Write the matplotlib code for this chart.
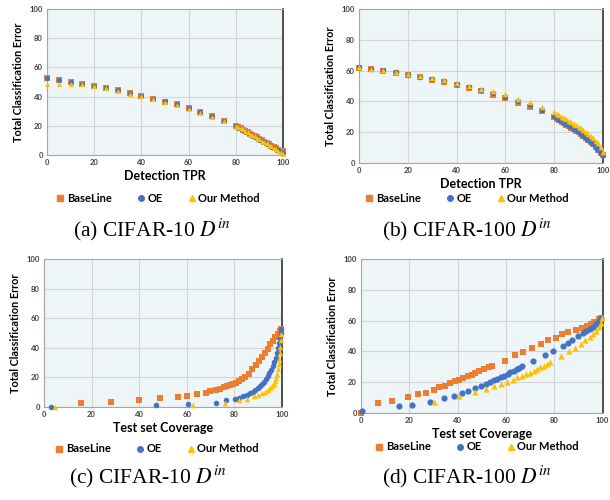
import matplotlib
matplotlib.use('Agg')
import matplotlib.pyplot as plt
from matplotlib.lines import Line2D

plt.rcParams['font.family'] = ['Lato', 'DejaVu Sans']
plt.rcParams['mathtext.fontset'] = 'stix'

# ---- data ----
tpr = [0, 5, 10, 15, 20, 25, 30, 35, 40, 45, 50, 55, 60, 65, 70, 75,
       80, 81, 82, 83, 84, 85, 86, 87, 88, 89, 90, 91, 92, 93, 94, 95, 96, 97, 98, 99, 100]

# (a) CIFAR-10, detection TPR
a_base = [52.6, 51.5, 50.0, 48.7, 47.4, 45.8, 44.2, 42.6, 40.5, 38.4, 36.6, 34.8, 32.0, 29.3, 26.5, 23.3,
          20.0, 19.2, 18.3, 17.4, 16.5, 15.6, 14.7, 13.8, 12.9, 12.0, 11.1, 10.2, 9.2, 8.3, 7.3, 6.4, 5.5, 4.6, 3.7, 3.0, 2.5]
a_oe = [53.0, 51.6, 50.2, 48.8, 47.4, 45.9, 44.3, 42.7, 40.7, 38.6, 36.8, 34.9, 32.3, 29.5, 26.6, 23.4,
        19.6, 18.7, 17.8, 16.9, 16.0, 15.1, 14.2, 13.3, 12.4, 11.4, 10.5, 9.5, 8.6, 7.6, 6.7, 5.7, 4.8, 3.9, 3.1, 2.3, 1.6]
a_our = [48.8, 48.8, 48.8, 48.4, 47.1, 45.6, 43.8, 42.1, 40.1, 38.2, 36.1, 34.0, 31.7, 29.0, 26.3, 23.1,
         20.2, 19.3, 18.4, 17.5, 16.6, 15.6, 14.7, 13.7, 12.8, 11.8, 10.9, 9.9, 9.0, 8.0, 7.0, 6.0, 5.0, 4.0, 3.0, 1.8, 0.5]

# (b) CIFAR-100, detection TPR
b_base = [62.0, 61.0, 60.0, 58.4, 57.0, 55.6, 54.2, 52.6, 50.9, 48.5, 46.8, 44.4, 42.5, 39.2, 36.6, 33.6,
          29.7, 28.8, 27.9, 26.9, 25.9, 24.9, 23.9, 22.9, 21.9, 20.9, 19.9, 18.8, 17.6, 16.3, 15.0, 13.6, 12.1, 10.4, 8.6, 6.8, 5.4]
b_oe = [62.2, 61.1, 60.1, 58.8, 57.3, 56.0, 54.5, 53.0, 51.5, 49.4, 47.4, 45.3, 43.1, 40.1, 37.5, 34.3,
        30.2, 29.2, 28.2, 27.2, 26.2, 25.2, 24.2, 23.2, 22.2, 21.2, 20.2, 19.0, 17.8, 16.5, 15.2, 13.8, 12.2, 10.5, 8.6, 6.7, 5.0]
b_our = [62.3, 61.2, 60.2, 59.0, 57.6, 56.3, 54.9, 53.7, 52.2, 50.2, 48.3, 46.6, 44.6, 41.8, 39.4, 36.6,
         32.8, 31.9, 31.0, 30.1, 29.2, 28.3, 27.4, 26.5, 25.5, 24.5, 23.6, 22.5, 21.4, 20.2, 19.0, 17.6, 16.1, 14.5, 12.8, 10.2, 7.2]

# (c) CIFAR-10, test set coverage
c_base_x = [15.6, 28.4, 40.0, 49.0, 56.5, 60.2, 64.3, 68.0, 70.0, 72.4, 74.2, 75.6, 77.0, 78.3, 79.6, 80.8,
            82.0, 83.2, 84.5, 86.0, 87.6, 89.0, 90.3, 91.6, 92.8, 94.0, 95.2, 96.3, 97.3, 98.3, 99.2, 99.8]
c_base_y = [2.7, 3.4, 4.7, 6.1, 7.0, 7.6, 8.8, 9.7, 10.6, 11.6, 12.4, 13.2, 14.0, 14.8, 15.6, 16.5,
            17.5, 18.6, 20.2, 22.5, 25.5, 28.5, 31.2, 34.0, 36.8, 39.5, 42.3, 44.8, 47.2, 49.5, 51.5, 53.0]
c_oe_x = [3.1, 47.1, 60.7, 72.3, 76.6, 80.3, 82.1, 83.8, 85.2, 86.5, 87.7, 88.8, 89.8, 90.8, 91.7, 92.5,
          93.3, 94.0, 94.7, 95.4, 96.1, 96.8, 97.4, 98.0, 98.5, 98.9, 99.3, 99.6, 99.8]
c_oe_y = [0.3, 1.1, 1.8, 3.0, 4.4, 5.5, 6.3, 7.1, 8.2, 9.2, 10.3, 11.4, 12.6, 14.0, 15.5, 17.2,
          19.0, 20.8, 23.0, 25.3, 27.8, 30.5, 33.4, 36.5, 39.8, 43.2, 46.8, 50.2, 53.0]
c_our_x = [4.6, 62.5, 76.1, 82.0, 85.3, 88.1, 90.1, 91.5, 92.8, 94.0, 95.0, 95.9, 96.6, 97.2, 97.7, 98.1,
           98.4, 98.7, 99.0, 99.2, 99.4, 99.6, 99.8]
c_our_y = [0.0, 1.6, 2.9, 4.5, 5.6, 7.1, 8.3, 9.3, 10.4, 11.6, 12.8, 14.2, 15.8, 17.6, 19.8, 22.4,
           25.4, 28.8, 32.5, 36.5, 40.8, 45.2, 49.5]

# (d) CIFAR-100, test set coverage
d_base_x = [0.0, 7.1, 12.8, 19.3, 23.7, 26.7, 30.1, 32.2, 34.9, 36.9, 38.9, 40.7, 42.3, 44.1, 45.7, 47.1,
            48.8, 50.9, 52.9, 54.3, 59.6, 63.6, 66.9, 70.8, 74.5, 77.3, 80.6, 83.3, 85.8, 88.9, 91.6, 93.4,
            95.0, 96.6, 98.4, 99.3]
d_base_y = [0.0, 6.5, 7.6, 10.6, 12.3, 13.0, 14.9, 16.6, 17.7, 19.2, 20.5, 21.6, 22.7, 23.8, 24.8, 25.7,
            27.0, 28.5, 29.8, 30.5, 33.9, 37.4, 39.5, 42.5, 45.1, 47.1, 48.8, 51.0, 52.3, 54.0, 55.5, 56.6,
            57.9, 59.2, 60.9, 62.0]
d_oe_x = [0.3, 15.6, 20.9, 28.5, 34.2, 38.3, 41.7, 44.2, 47.1, 49.5, 51.6, 53.2, 54.9, 56.3, 57.9, 59.3,
          60.7, 61.7, 63.1, 64.5, 65.5, 66.5, 71.1, 76.0, 79.6, 83.4, 85.8, 87.1, 89.8, 91.9, 93.2, 94.7,
          95.9, 97.3, 98.4, 99.3]
d_oe_y = [1.5, 4.3, 5.2, 7.3, 9.5, 11.2, 13.0, 14.5, 16.2, 17.7, 19.0, 20.1, 21.2, 22.0, 23.1, 24.2,
          25.5, 26.3, 27.4, 28.5, 29.4, 30.2, 33.9, 37.4, 40.4, 43.2, 45.4, 47.1, 49.7, 51.8, 53.1, 54.4,
          55.7, 57.5, 59.6, 61.8]
d_our_x = [30.1, 40.7, 47.1, 51.6, 55.2, 58.1, 60.4, 62.7, 64.7, 66.5, 68.4, 69.9, 71.5, 72.9, 74.2, 75.6,
           76.9, 78.3, 82.8, 85.9, 88.7, 90.9, 92.8, 94.6, 95.9, 97.3, 98.4, 99.3, 99.9]
d_our_y = [7.3, 11.0, 13.4, 15.6, 17.3, 18.8, 20.1, 21.6, 23.1, 24.2, 25.1, 25.9, 27.2, 28.7, 29.6, 30.7,
           31.7, 32.8, 36.7, 40.0, 42.5, 44.7, 47.1, 49.2, 51.4, 53.3, 55.7, 58.3, 61.6]

series_names = ['BaseLine', 'OE', 'Our Method']
colors = ['#ED7D31', '#4472C4', '#FFC000']
markers = ['s', 'o', '^']

ticks = [0, 20, 40, 60, 80, 100]


def style_axes(ax, xlabel):
    ax.set_facecolor('#EDF5F6')
    ax.set_xlim(0, 100)
    ax.set_ylim(0, 100)
    ax.set_xticks(ticks)
    ax.set_yticks(ticks)
    ax.tick_params(length=0, labelsize=5.5, pad=3)
    for lab in ax.get_xticklabels() + ax.get_yticklabels():
        lab.set_fontweight('bold')
        lab.set_color('#404040')
    ax.grid(True, color='#D4D4D4', lw=0.8, zorder=0)
    ax.set_axisbelow(True)
    for side in ['left', 'top', 'bottom']:
        ax.spines[side].set_color('#A6A6A6')
        ax.spines[side].set_linewidth(0.8)
    ax.spines['right'].set_color('#404040')
    ax.spines['right'].set_linewidth(1.3)
    ax.set_xlabel(xlabel, fontsize=9, fontweight='bold', labelpad=3)
    ax.set_ylabel('Total Classification Error', fontsize=7.8, fontweight='bold', labelpad=4)


def draw(ax, xs, ys, size):
    for x, y, c, m in zip(xs, ys, colors, markers):
        ax.scatter(x, y, s=size, c=c, marker=m, linewidths=0, zorder=3, clip_on=False)


fig = plt.figure(figsize=(6.1, 5.0), dpi=100)

ax_a = fig.add_axes([0.077, 0.690, 0.387, 0.292])
draw(ax_a, [tpr, tpr, tpr], [a_base, a_oe, a_our], 13)
style_axes(ax_a, 'Detection TPR')

ax_b = fig.add_axes([0.5885, 0.674, 0.400, 0.308])
draw(ax_b, [tpr, tpr, tpr], [b_base, b_oe, b_our], 16)
style_axes(ax_b, 'Detection TPR')

ax_c = fig.add_axes([0.072, 0.186, 0.390, 0.296])
draw(ax_c, [c_base_x, c_oe_x, c_our_x], [c_base_y, c_oe_y, c_our_y], 16)
style_axes(ax_c, 'Test set Coverage')

ax_d = fig.add_axes([0.592, 0.174, 0.396, 0.308])
draw(ax_d, [d_base_x, d_oe_x, d_our_x], [d_base_y, d_oe_y, d_our_y], 20)
style_axes(ax_d, 'Test set Coverage')

handles = [Line2D([], [], ls='none', marker=m, color=c, markersize=4) for c, m in zip(colors, markers)]
legend_pos = [(158, 198), (467, 198), (157, 449), (477, 447)]
for px, py in legend_pos:
    fig.legend(handles, series_names, loc='center', bbox_to_anchor=(px / 610, 1 - py / 500),
               ncol=3, frameon=False, handletextpad=0.2, columnspacing=2.2, handlelength=0.8,
               prop={'size': 8, 'weight': 'bold'})

captions = ['(a) CIFAR-10 $D^{in}$', '(b) CIFAR-100 $D^{in}$',
            '(c) CIFAR-10 $D^{in}$', '(d) CIFAR-100 $D^{in}$']
cap_pos = [(152, 230), (467, 230), (148, 477), (467, 477)]
for text, (px, py) in zip(captions, cap_pos):
    fig.text(px / 610, 1 - py / 500, text, fontfamily='Liberation Serif', fontsize=15.5,
             ha='center', va='center')

fig.savefig('out.png', dpi=100)
